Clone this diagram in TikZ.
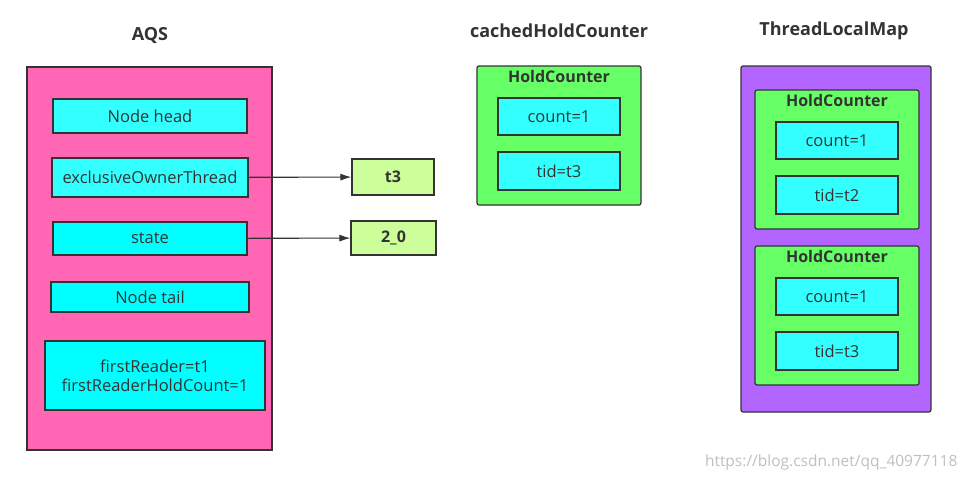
\documentclass[tikz,border=0pt]{standalone}
\usepackage{fontspec}
\setmainfont{Open Sans}
\usetikzlibrary{positioning,arrows.meta}
\definecolor{mypink}{RGB}{255,102,179}
\definecolor{mycyan}{RGB}{51,255,255}
\definecolor{mycyandeep}{RGB}{0,255,255}
\definecolor{mygreen}{RGB}{102,255,102}
\definecolor{mypurple}{RGB}{178,102,255}
\definecolor{mylime}{RGB}{204,255,153}
\definecolor{mydark}{RGB}{51,51,51}

\begin{document}
\begin{tikzpicture}[
  x=1pt, y=-1pt,
  line width=1.2pt,
  every node/.style={inner sep=0pt, text=mydark},
  field/.style={
    draw=mydark,
    fill=mycyan,
    font=\fontsize{16.5}{19}\selectfont
    },
  holder/.style={
    draw=mydark,
    rounded corners=2pt
    },
  title/.style={font=\fontsize{18}{21}\selectfont\bfseries},
  header/.style={font=\fontsize{16}{19}\selectfont\bfseries},
  link/.style={draw=mydark, line width=1.1pt, -{Latex[length=11pt,width=7pt]}}
]
\useasboundingbox (0,0) rectangle (967,480);

% AQS
\node[title] (aqstitle) at (150,35) {AQS};
\node[draw=mydark, fill=mypink, minimum width=245pt, minimum height=383pt] (aqs) at (149.5,258.5) {};
\node[field, minimum width=194pt, minimum height=34pt] (head) at (150,116) {Node head};
\node[field, minimum width=196pt, minimum height=39pt] (owner) at (150,177.5) {exclusiveOwnerThread};
\node[field, fill=mycyandeep, minimum width=194pt, minimum height=33pt] (state) at (150,238.5) {state};
\node[field, fill=mycyandeep, minimum width=198pt, minimum height=30pt] (tail) at (150,297) {Node tail};
\node[field, fill=mycyandeep, minimum width=220pt, minimum height=69pt, align=center] (reader) at (155,375.5)
  {firstReader=t1\\firstReaderHoldCount=1};

% values
\node[field, fill=mylime, font=\fontsize{16}{19}\selectfont\bfseries, minimum width=82pt, minimum height=36pt] (thread) at (393,177) {t3};
\node[field, fill=mylime, font=\fontsize{16}{19}\selectfont\bfseries, minimum width=85pt, minimum height=34pt] (value) at (393.5,238) {2\_0};
\draw[link] (owner) -- (thread);
\draw[link] (state) -- (value);

% cachedHoldCounter
\node[title] (cachedtitle) at (559,31) {cachedHoldCounter};
\node[holder, fill=mygreen, minimum width=164pt, minimum height=139pt] (cached) at (559,135.5) {};
\node[header, below=4pt of cached.north] {HoldCounter};
\node[field, minimum width=122pt, minimum height=37pt] (cachedcount) at (559,116.5) {count=1};
\node[field, minimum width=122pt, minimum height=38pt] (cachedtid) at (559,171) {tid=t3};

% ThreadLocalMap
\node[title] (maptitle) at (834,31) {ThreadLocalMap};
\node[holder, fill=mypurple, minimum width=190pt, minimum height=346pt] (map) at (836,239) {};
\foreach \Y/\T [count=\i] in {159.5/t2, 315.5/t3} {
  \node[holder, fill=mygreen, minimum width=164pt, minimum height=139pt] (hc\i) at (837,\Y) {};
  \node[header, below=4pt of hc\i.north] {HoldCounter};
  \node[field, minimum width=122pt, minimum height=37pt] (count\i) at (837,\Y-19) {count=1};
  \node[field, minimum width=122pt, minimum height=38pt] (tid\i) at (837,\Y+35.5) {tid=\T};
}

\node[anchor=east, text=black!25, font=\fontsize{15.5}{18}\selectfont] (mark) at (958,462) {https://blog.csdn.net/qq\_40977118};
\end{tikzpicture}
\end{document}
